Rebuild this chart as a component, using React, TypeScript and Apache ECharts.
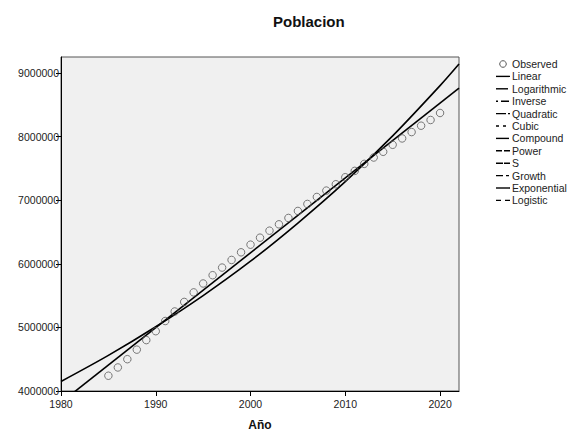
import React, { useEffect, useRef } from "react";
import * as echarts from "echarts";

const years = [1985, 1986, 1987, 1988, 1989, 1990, 1991, 1992, 1993, 1994, 1995, 1996, 1997, 1998, 1999, 2000, 2001, 2002, 2003, 2004, 2005, 2006, 2007, 2008, 2009, 2010, 2011, 2012, 2013, 2014, 2015, 2016, 2017, 2018, 2019, 2020];
const observed = [4240000, 4370000, 4500000, 4650000, 4800000, 4940000, 5100000, 5250000, 5400000, 5550000, 5690000, 5820000, 5940000, 6060000, 6180000, 6300000, 6410000, 6520000, 6620000, 6720000, 6830000, 6940000, 7050000, 7150000, 7250000, 7360000, 7460000, 7570000, 7670000, 7760000, 7870000, 7970000, 8070000, 8170000, 8260000, 8370000];

const linearYears = [1980, 2022];
const linearValues = [3820000, 8760000];

const expYears = [1980, 1985, 1990, 1995, 2000, 2005, 2010, 2015, 2020, 2022];
const expValues = [4150000, 4560000, 5010000, 5500000, 6040000, 6640000, 7290000, 8010000, 8800000, 9140000];

const xTicks = [1980, 1990, 2000, 2010, 2020];
const yTicks = [4000000, 5000000, 6000000, 7000000, 8000000, 9000000];

const legendNames = ["Observed", "Linear", "Logarithmic", "Inverse", "Quadratic", "Cubic", "Compound", "Power", "S", "Growth", "Exponential", "Logistic"];
const legendDashes: any[] = [null, null, [12, 2, 1, 3], [2, 3, 8, 10], [10, 2, 2, 2], [3, 4, 3, 4], [13, 1], [6, 2, 6, 2], [7, 1, 7, 2], [7, 3, 3, 4], null, [5, 4, 5, 4]];

const FONT = "'Liberation Sans', Arial, sans-serif";

export default function App() {
  const ref = useRef<HTMLDivElement>(null);
  useEffect(() => {
    document.body.style.margin = "0";
    const chart = echarts.init(ref.current!, null, { renderer: "svg" });

    const legendEls: any[] = [];
    legendNames.forEach((name, i) => {
      const cy = 64 + i * 12.4;
      if (i === 0) {
        legendEls.push({
          type: "circle",
          shape: { cx: 503, cy, r: 3.3 },
          style: { fill: "none", stroke: "#555", lineWidth: 1 },
        });
      } else {
        legendEls.push({
          type: "line",
          shape: { x1: 496, y1: cy, x2: 510, y2: cy },
          style: { stroke: "#000", lineWidth: 1.4, lineDash: legendDashes[i] || null },
        });
      }
      legendEls.push({
        type: "text",
        x: 512,
        y: cy,
        style: {
          text: name,
          font: "10.5px " + FONT,
          fill: "#222",
          textVerticalAlign: "middle",
          verticalAlign: "middle",
        },
      });
    });

    chart.setOption({
      animation: false,
      backgroundColor: "#fff",
      title: {
        text: "Poblacion",
        left: 268,
        top: 9,
        textStyle: { fontFamily: FONT, fontSize: 15, fontWeight: "bold", color: "#111" },
      },
      grid: {
        left: 61,
        right: 110,
        top: 57,
        bottom: 41,
        containLabel: false,
        outerBoundsMode: "none",
        show: true,
        backgroundColor: "#f0f0f0",
        borderColor: "#555",
        borderWidth: 1,
      },
      graphic: legendEls,
      xAxis: {
        type: "value",
        min: 1980,
        max: 2022,
        interval: 10,
        name: "Año",
        nameLocation: "middle",
        nameGap: 28,
        nameTextStyle: { fontFamily: FONT, fontSize: 12, fontWeight: "bold", color: "#111" },
        splitLine: { show: false },
        axisLine: { lineStyle: { color: "#000", width: 1 } },
        axisTick: { length: 5, lineStyle: { color: "#000" }, customValues: xTicks },
        axisLabel: {
          fontFamily: FONT,
          fontSize: 10.5,
          color: "#222",
          margin: 7,
          customValues: xTicks,
          formatter: (v: number) => String(v),
        },
      },
      yAxis: {
        type: "value",
        min: 4000000,
        max: 9250000,
        interval: 1000000,
        splitLine: { show: false },
        axisLine: { lineStyle: { color: "#000", width: 1 } },
        axisTick: { length: 5, lineStyle: { color: "#000" }, customValues: yTicks },
        axisLabel: {
          fontFamily: FONT,
          fontSize: 10.5,
          color: "#222",
          margin: 2,
          customValues: yTicks,
          formatter: (v: number) => String(v),
        },
      },
      series: [
        {
          name: "Observed",
          type: "scatter",
          data: years.map((y, k) => [y, observed[k]]),
          symbol: "circle",
          symbolSize: 7.5,
          itemStyle: { color: "rgba(0,0,0,0)", borderColor: "#5a5a5a", borderWidth: 1 },
          z: 3,
        },
        {
          name: "Linear",
          type: "line",
          data: linearYears.map((y, k) => [y, linearValues[k]]),
          symbol: "none",
          lineStyle: { color: "#000", width: 1.6 },
          clip: true,
          z: 2,
        },
        {
          name: "Exponential",
          type: "line",
          data: expYears.map((y, k) => [y, expValues[k]]),
          symbol: "none",
          smooth: 0.3,
          lineStyle: { color: "#000", width: 1.6 },
          clip: true,
          z: 2,
        },
      ],
    });
    return () => chart.dispose();
  }, []);
  return <div ref={ref} style={{ position: "absolute", left: 0, top: 0, width: 569, height: 432 }} />;
}
